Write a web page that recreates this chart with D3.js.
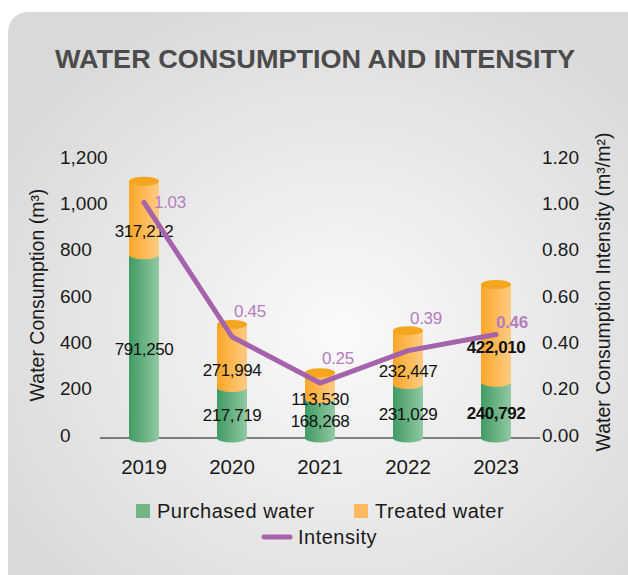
<!DOCTYPE html>
<html lang="en">
<head>
<meta charset="UTF-8">
<title>Water Consumption and Intensity</title>
<script src="https://d3js.org/d3.v7.min.js"></script>
<style>
  body { margin: 0; background: #fff; }
  text { font-family: "Liberation Sans", Arial, sans-serif; }
</style>
</head>
<body>
<svg width="628" height="575"></svg>
<script>
const years = ["2019", "2020", "2021", "2022", "2023"];
const purchased = [791250, 217719, 168268, 231029, 240792];
const treated = [317212, 271994, 113530, 232447, 422010];
const intensity = [1.03, 0.45, 0.25, 0.39, 0.46];
const boldYear = "2023";
// where each intensity label sits relative to its point
const intensityLabelPos = ["right", "above", "above", "high", "low"];
const labelOffsets = { right: [10, 0], above: [2, -25], high: [2, -32], low: [0, -12] };

const svg = d3.select("svg");
const defs = svg.append("defs");

const bg = defs.append("radialGradient").attr("id", "bg")
  .attr("cx", "52%").attr("cy", "55%").attr("r", "62%");
bg.append("stop").attr("offset", "0%").attr("stop-color", "#fafafa");
bg.append("stop").attr("offset", "100%").attr("stop-color", "#d9d9d9");

function hGrad(id, c0, c1) {
  const g = defs.append("linearGradient").attr("id", id)
    .attr("x1", "0%").attr("x2", "100%").attr("y1", "0%").attr("y2", "0%");
  g.append("stop").attr("offset", "0%").attr("stop-color", c0);
  g.append("stop").attr("offset", "100%").attr("stop-color", c1);
}
hGrad("gGreen", "#3f9b64", "#93c9a3");
hGrad("gOrange", "#fba628", "#ffcc84");

// card background, runs off the bottom/right edge of the window
svg.append("rect")
  .attr("x", 8).attr("y", 12)
  .attr("width", 640).attr("height", 583)
  .attr("rx", 20)
  .attr("fill", "url(#bg)");

svg.append("text")
  .attr("x", 315).attr("y", 68)
  .attr("text-anchor", "middle")
  .attr("font-size", 25)
  .attr("font-weight", "bold")
  .attr("fill", "#4b4b4b")
  .attr("textLength", 520)
  .attr("lengthAdjust", "spacingAndGlyphs")
  .text("WATER CONSUMPTION AND INTENSITY");

const x = d3.scalePoint().domain(years).range([100, 540]).padding(0.5);
const y = d3.scaleLinear().domain([0, 1200000]).range([438, 160]);
const yR = d3.scaleLinear().domain([0, 1.2]).range([438, 160]);
const barW = 30, ry = 4.5;

// left axis labels (thousands)
svg.append("g").selectAll("text")
  .data(y.ticks(6))
  .join("text")
  .attr("x", 60)
  .attr("y", d => y(d) - 3)
  .attr("dominant-baseline", "central")
  .attr("font-size", 19)
  .attr("fill", "#1a1a1a")
  .text(d => d3.format(",")(d / 1000));

// right axis labels
svg.append("g").selectAll("text")
  .data(yR.ticks(6))
  .join("text")
  .attr("x", 542)
  .attr("y", d => yR(d) - 3)
  .attr("dominant-baseline", "central")
  .attr("font-size", 19)
  .attr("fill", "#1a1a1a")
  .text(d => d3.format(".2f")(d));

svg.append("text")
  .attr("transform", "translate(44,295) rotate(-90)")
  .attr("text-anchor", "middle")
  .attr("font-size", 19.5)
  .attr("fill", "#1a1a1a")
  .text("Water Consumption (m³)");

svg.append("text")
  .attr("transform", "translate(610,292) rotate(-90)")
  .attr("text-anchor", "middle")
  .attr("font-size", 19.5)
  .attr("fill", "#1a1a1a")
  .text("Water Consumption Intensity (m³/m²)");

// baseline
svg.append("line")
  .attr("x1", 100).attr("x2", 540)
  .attr("y1", y(0)).attr("y2", y(0))
  .attr("stroke", "#111").attr("stroke-width", 1);

// year labels
svg.append("g").selectAll("text")
  .data(years)
  .join("text")
  .attr("x", d => x(d))
  .attr("y", 466)
  .attr("text-anchor", "middle")
  .attr("dominant-baseline", "central")
  .attr("font-size", 20.5)
  .attr("fill", "#1a1a1a")
  .text(d => d);

// cylinders
const rows = years.map((yr, i) => ({ yr, p: purchased[i], t: treated[i] }));
const bars = svg.append("g").selectAll("g").data(rows).join("g");

bars.append("rect")
  .attr("x", d => x(d.yr) - barW / 2)
  .attr("y", d => y(d.p))
  .attr("width", barW)
  .attr("height", d => y(0) - y(d.p))
  .attr("fill", "url(#gGreen)");
bars.append("ellipse")
  .attr("cx", d => x(d.yr)).attr("cy", y(0))
  .attr("rx", barW / 2).attr("ry", ry)
  .attr("fill", "url(#gGreen)");

bars.append("rect")
  .attr("x", d => x(d.yr) - barW / 2)
  .attr("y", d => y(d.p + d.t))
  .attr("width", barW)
  .attr("height", d => y(d.p) - y(d.p + d.t))
  .attr("fill", "url(#gOrange)");
bars.append("ellipse")
  .attr("cx", d => x(d.yr)).attr("cy", d => y(d.p))
  .attr("rx", barW / 2).attr("ry", ry)
  .attr("fill", "url(#gOrange)");
bars.append("ellipse")
  .attr("cx", d => x(d.yr)).attr("cy", d => y(d.p + d.t))
  .attr("rx", barW / 2).attr("ry", ry)
  .attr("fill", "#f6a51f");

// value labels
function valueLabel(yPos, key) {
  bars.append("text")
    .attr("x", d => x(d.yr))
    .attr("y", yPos)
    .attr("text-anchor", "middle")
    .attr("dominant-baseline", "central")
    .attr("font-size", 17)
    .attr("letter-spacing", -0.4)
    .attr("font-weight", d => d.yr === boldYear ? "bold" : "normal")
    .attr("fill", "#111")
    .text(d => d3.format(",")(d[key]));
}
valueLabel(d => (y(0) + y(d.p)) / 2 + 3, "p");
valueLabel(d => (y(d.p) + y(d.p + d.t)) / 2 + 14, "t");

// intensity line
const line = d3.line()
  .x((d, i) => x(years[i]))
  .y(d => yR(d) + 3);
svg.append("path")
  .datum(intensity)
  .attr("d", line)
  .attr("fill", "none")
  .attr("stroke", "#a463aa")
  .attr("stroke-width", 5)
  .attr("stroke-linecap", "round")
  .attr("stroke-linejoin", "round");

svg.append("g").selectAll("text")
  .data(intensity)
  .join("text")
  .attr("x", (d, i) => x(years[i]) + labelOffsets[intensityLabelPos[i]][0])
  .attr("y", (d, i) => yR(d) + 3 + labelOffsets[intensityLabelPos[i]][1])
  .attr("dominant-baseline", "central")
  .attr("font-size", 17)
  .attr("letter-spacing", -0.3)
  .attr("font-weight", (d, i) => years[i] === boldYear ? "bold" : "normal")
  .attr("fill", "#b57ebd")
  .text(d => d3.format(".2f")(d));

// legend
const leg = svg.append("g");
const legItems = [
  { label: "Purchased water", color: "#73b587", x: 136, y: 511 },
  { label: "Treated water", color: "#ffb95c", x: 354, y: 511 }
];
legItems.forEach(it => {
  leg.append("rect").attr("x", it.x).attr("y", it.y - 7)
    .attr("width", 14).attr("height", 14).attr("fill", it.color);
  leg.append("text").attr("x", it.x + 21).attr("y", it.y)
    .attr("dominant-baseline", "central")
    .attr("font-size", 20).attr("letter-spacing", 0.5).attr("fill", "#1a1a1a")
    .text(it.label);
});
leg.append("line").attr("x1", 264).attr("x2", 290)
  .attr("y1", 537).attr("y2", 537)
  .attr("stroke", "#a463aa").attr("stroke-width", 5)
  .attr("stroke-linecap", "round");
leg.append("text").attr("x", 298).attr("y", 537)
  .attr("dominant-baseline", "central")
  .attr("font-size", 20).attr("letter-spacing", 0.5).attr("fill", "#1a1a1a")
  .text("Intensity");
</script>
</body>
</html>
